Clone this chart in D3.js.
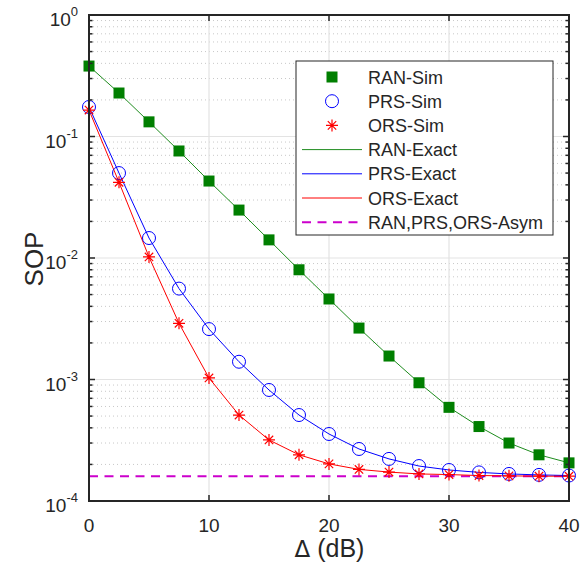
<!DOCTYPE html>
<html>
<head>
<meta charset="utf-8">
<script src="https://cdn.jsdelivr.net/npm/d3@7"></script>
<style>
body { margin: 0; background: #fff; }
text { font-family: "Liberation Sans", Arial, sans-serif; fill: #262626; }
</style>
</head>
<body>
<div id="chart-area"></div>
<script>
var delta = [0, 2.5, 5, 7.5, 10, 12.5, 15, 17.5, 20, 22.5, 25, 27.5, 30, 32.5, 35, 37.5, 40];
var ranVals = [0.38, 0.228, 0.132, 0.076, 0.043, 0.0248, 0.0141, 0.008, 0.0046, 0.00265, 0.00156, 0.00094, 0.00059, 0.00041, 0.0003, 0.00024, 0.000206];
var prsVals = [0.175, 0.05, 0.0146, 0.0056, 0.0026, 0.0014, 0.00082, 0.00051, 0.000356, 0.000268, 0.000222, 0.000194, 0.00018, 0.000172, 0.000167, 0.000164, 0.000162];
var orsVals = [0.165, 0.042, 0.0102, 0.0029, 0.00103, 0.00051, 0.000318, 0.00024, 0.000202, 0.000182, 0.000173, 0.000167, 0.000165, 0.000162, 0.000161, 0.00016, 0.00016];
var asymVal = 0.00016;
var xTicks = [0, 10, 20, 30, 40];
var yExps = [0, -1, -2, -3, -4];
var legendLabels = ["RAN-Sim", "PRS-Sim", "ORS-Sim", "RAN-Exact", "PRS-Exact", "ORS-Exact", "RAN,PRS,ORS-Asym"];

var margin = {top: 15, right: 17, bottom: 63, left: 89};
var width = 586 - margin.left - margin.right,
    height = 564 - margin.top - margin.bottom;

var svg = d3.select("#chart-area").append("svg")
    .attr("width", 586)
    .attr("height", 564)
    .append("g")
    .attr("transform", "translate(" + margin.left + "," + margin.top + ")");

var xScale = d3.scaleLinear().domain([0, 40]).range([0, width]);
var yScale = d3.scaleLog().domain([1e-4, 1]).range([height, 0]);

// minor grid
var minorVals = [];
yExps.slice(1).forEach(function(e) {
    for (var k = 2; k <= 9; k++) minorVals.push(k * Math.pow(10, e));
});
svg.selectAll(".minor").data(minorVals).enter().append("line")
    .attr("x1", 0).attr("x2", width)
    .attr("y1", function(d) { return yScale(d); })
    .attr("y2", function(d) { return yScale(d); })
    .style("stroke", "#c8c8c8")
    .style("stroke-width", 1)
    .style("stroke-dasharray", "1,3");

// major grid
svg.selectAll(".ygrid").data(yExps.slice(1, 4)).enter().append("line")
    .attr("x1", 0).attr("x2", width)
    .attr("y1", function(d) { return yScale(Math.pow(10, d)); })
    .attr("y2", function(d) { return yScale(Math.pow(10, d)); })
    .style("stroke", "#e3e3e3").style("stroke-width", 1.2);
svg.selectAll(".xgrid").data(xTicks.slice(1, 4)).enter().append("line")
    .attr("y1", 0).attr("y2", height)
    .attr("x1", function(d) { return xScale(d); })
    .attr("x2", function(d) { return xScale(d); })
    .style("stroke", "#e3e3e3").style("stroke-width", 1.2);

// lines
var line = function(vals) {
    return d3.line()
        .x(function(d, i) { return xScale(delta[i]); })
        .y(function(d) { return yScale(d); })(vals);
};
svg.append("line")
    .attr("x1", 0).attr("x2", width)
    .attr("y1", yScale(asymVal)).attr("y2", yScale(asymVal))
    .style("stroke", "#cc00cc").style("stroke-width", 2)
    .style("stroke-dasharray", "9,6.5");
svg.append("path").attr("d", line(ranVals)).style("fill", "none").style("stroke", "#1e8c1e").style("stroke-width", 1);
svg.append("path").attr("d", line(prsVals)).style("fill", "none").style("stroke", "#0000ff").style("stroke-width", 1);
svg.append("path").attr("d", line(orsVals)).style("fill", "none").style("stroke", "#ff0000").style("stroke-width", 1);

// markers
svg.selectAll(".sq").data(ranVals).enter().append("rect")
    .attr("x", function(d, i) { return xScale(delta[i]) - 5.5; })
    .attr("y", function(d) { return yScale(d) - 5.5; })
    .attr("width", 11).attr("height", 11)
    .style("fill", "#007f00");

svg.selectAll(".circ").data(prsVals).enter().append("circle")
    .attr("cx", function(d, i) { return xScale(delta[i]); })
    .attr("cy", function(d) { return yScale(d); })
    .attr("r", 6.5)
    .style("fill", "none").style("stroke", "#0000ff").style("stroke-width", 1);

var asterisk = "M-6,0L6,0M0,-6L0,6M-4.2,-4.2L4.2,4.2M-4.2,4.2L4.2,-4.2";
svg.selectAll(".ast").data(orsVals).enter().append("path")
    .attr("transform", function(d, i) { return "translate(" + xScale(delta[i]) + "," + yScale(d) + ")"; })
    .attr("d", asterisk)
    .style("fill", "none").style("stroke", "#ff0000").style("stroke-width", 1.2);

// axes box
svg.append("rect").attr("width", width).attr("height", height)
    .style("fill", "none").style("stroke", "#262626").style("stroke-width", 2);

// ticks
var tickLen = 6;
xTicks.forEach(function(t) {
    svg.append("line").attr("x1", xScale(t)).attr("x2", xScale(t)).attr("y1", height).attr("y2", height - tickLen)
        .style("stroke", "#262626").style("stroke-width", 1.5);
    svg.append("line").attr("x1", xScale(t)).attr("x2", xScale(t)).attr("y1", 0).attr("y2", tickLen)
        .style("stroke", "#262626").style("stroke-width", 1.5);
    svg.append("text").attr("x", xScale(t)).attr("y", height + 31)
        .attr("text-anchor", "middle").style("font-size", "19px").text(t);
});
var yTickVals = yExps.map(function(e) { return Math.pow(10, e); }).concat(minorVals);
yTickVals.forEach(function(v) {
    var len = minorVals.indexOf(v) >= 0 ? 3.5 : tickLen;
    svg.append("line").attr("x1", 0).attr("x2", len).attr("y1", yScale(v)).attr("y2", yScale(v))
        .style("stroke", "#262626").style("stroke-width", 1.5);
    svg.append("line").attr("x1", width).attr("x2", width - len).attr("y1", yScale(v)).attr("y2", yScale(v))
        .style("stroke", "#262626").style("stroke-width", 1.5);
});
yExps.forEach(function(e) {
    var t = svg.append("text").attr("x", -11).attr("y", yScale(Math.pow(10, e)) + 11)
        .attr("text-anchor", "end").style("font-size", "19px");
    t.append("tspan").text("10");
    t.append("tspan").attr("dy", -10).style("font-size", "13px").text(e);
});

// axis labels
var xl = svg.append("text").attr("x", 329.5 - margin.left).attr("y", height + 56)
    .attr("text-anchor", "middle").style("font-size", "25px");
xl.append("tspan").style("font-family", "'DejaVu Sans', sans-serif").style("font-size", "23px").text("\u0394");
xl.append("tspan").text(" (dB)");
svg.append("text").attr("transform", "translate(-46," + (259 - margin.top) + ") rotate(-90)")
    .attr("text-anchor", "middle").style("font-size", "26px").text("SOP");

// legend
var lg = svg.append("g").attr("transform", "translate(" + (296 - margin.left) + "," + (61 - margin.top) + ")");
lg.append("rect").attr("width", 257).attr("height", 174)
    .style("fill", "#fff").style("stroke", "#262626").style("stroke-width", 1);
var rowY = function(i) { return 16 + i * 24.2; };
legendLabels.forEach(function(l, i) {
    lg.append("text").attr("x", 72).attr("y", rowY(i) + 6.5).style("font-size", "18px").text(l);
});
lg.append("rect").attr("x", 36 - 5.5).attr("y", rowY(0) - 5.5).attr("width", 11).attr("height", 11).style("fill", "#007f00");
lg.append("circle").attr("cx", 36).attr("cy", rowY(1)).attr("r", 6.5)
    .style("fill", "none").style("stroke", "#0000ff");
lg.append("path").attr("transform", "translate(36," + rowY(2) + ")").attr("d", asterisk)
    .style("fill", "none").style("stroke", "#ff0000").style("stroke-width", 1.2);
var legLines = [["#1e8c1e", null, 1], ["#0000ff", null, 1], ["#ff0000", null, 1], ["#cc00cc", "9,6.5", 2]];
legLines.forEach(function(s, j) {
    lg.append("line").attr("x1", 6).attr("x2", 66).attr("y1", rowY(3 + j)).attr("y2", rowY(3 + j))
        .style("stroke", s[0]).style("stroke-width", s[2]).style("stroke-dasharray", s[1]);
});
</script>
</body>
</html>
